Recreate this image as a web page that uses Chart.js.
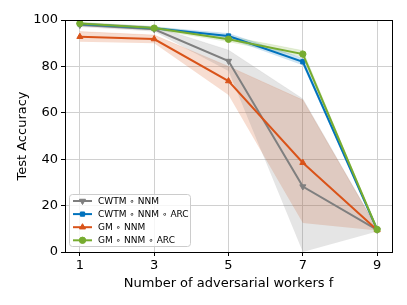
<!DOCTYPE html>
<html lang="en">
<head>
    <meta charset="UTF-8">
    <title>Test Accuracy</title>
    <script src="https://cdn.jsdelivr.net/npm/chart.js"></script>
    <style>
        html, body { margin: 0; padding: 0; background: #fff; }
        #wrap { width: 407px; height: 305px; }
    </style>
</head>
<body>
<div id="wrap"><canvas id="accChart" width="407" height="305"></canvas></div>

<script>
    // number of adversarial workers
    const workers = [1, 3, 5, 7, 9];
    const xTicks = [1, 3, 5, 7, 9];
    const yTicks = [0, 20, 40, 60, 80, 100];

    const names = ['CWTM \u2218 NNM', 'CWTM \u2218 NNM \u2218 ARC', 'GM \u2218 NNM', 'GM \u2218 NNM \u2218 ARC'];

    const cwtmNnm   = [97.8, 96.0, 82.3, 28.2, 9.5];
    const cwtmNnmLo = [97.0, 95.0, 78.0, 0.0, 8.8];
    const cwtmNnmHi = [98.8, 97.2, 87.0, 66.0, 10.2];

    const cwtmArc   = [98.3, 96.4, 93.1, 82.0, 9.7];
    const cwtmArcLo = [97.8, 95.8, 92.0, 80.5, 9.4];
    const cwtmArcHi = [98.8, 97.0, 94.2, 83.5, 10.0];

    const gmNnm   = [92.8, 91.8, 73.7, 38.5, 9.5];
    const gmNnmLo = [90.6, 90.0, 67.7, 12.5, 9.3];
    const gmNnmHi = [95.0, 93.5, 80.0, 65.5, 10.0];

    const gmArc   = [98.5, 96.5, 91.7, 85.3, 9.7];
    const gmArcLo = [98.0, 95.8, 90.5, 84.0, 9.4];
    const gmArcHi = [99.0, 97.2, 93.0, 86.8, 10.0];

    const colors = ['#7f7f7f', '#0072BD', '#D95319', '#77AC30'];
    const bandColors = ['rgba(127,127,127,0.2)', 'rgba(0,114,189,0.2)', 'rgba(217,83,25,0.2)', 'rgba(119,172,48,0.2)'];
    const markers = ['triangle', 'rect', 'triangle', 'circle'];
    const rotations = [180, 0, 0, 0];
    const sizes = [3.5, 3, 3.5, 3.2];

    const means = [cwtmNnm, cwtmArc, gmNnm, gmArc];
    const lows = [cwtmNnmLo, cwtmArcLo, gmNnmLo, gmArcLo];
    const highs = [cwtmNnmHi, cwtmArcHi, gmNnmHi, gmArcHi];

    const pts = arr => arr.map((v, i) => ({x: workers[i], y: v}));

    const datasets = [];
    // bands first
    for (let k = 0; k < 4; k++) {
        datasets.push({
            data: pts(lows[k]), borderWidth: 0, pointRadius: 0, fill: false,
            borderColor: 'transparent', order: 10
        });
        datasets.push({
            data: pts(highs[k]), borderWidth: 0.6, pointRadius: 0,
            borderColor: bandColors[k], backgroundColor: bandColors[k],
            fill: '-1', order: 10
        });
    }
    // lines (green on top)
    for (let k = 0; k < 4; k++) {
        datasets.push({
            label: names[k], main: true,
            data: pts(means[k]),
            borderColor: colors[k], backgroundColor: colors[k],
            borderWidth: 2, fill: false,
            pointStyle: markers[k], pointRotation: rotations[k],
            pointRadius: sizes[k], pointBorderWidth: 1,
            pointBackgroundColor: colors[k], pointBorderColor: colors[k],
            order: 4 - k
        });
    }

    const framePlugin = {
        id: 'frame',
        afterDraw(chart) {
            const {ctx, chartArea: a} = chart;
            ctx.save();
            ctx.strokeStyle = '#000';
            ctx.lineWidth = 1;
            ctx.strokeRect(Math.round(a.left) + 0.5, Math.round(a.top) + 0.5,
                Math.round(a.right - a.left), Math.round(a.bottom - a.top));

            // legend, bottom left inside the axes
            const bx = 69.5, by = 194.5, bw = 121, bh = 52;
            ctx.beginPath();
            ctx.roundRect(bx, by, bw, bh, 3);
            ctx.fillStyle = 'rgba(255,255,255,0.8)';
            ctx.fill();
            ctx.strokeStyle = '#cccccc';
            ctx.stroke();

            ctx.font = '9px "DejaVu Sans"';
            ctx.textBaseline = 'middle';
            ctx.textAlign = 'left';
            const lines = chart.data.datasets.filter(d => d.main);
            lines.forEach((d, i) => {
                const yy = 201 + i * 13.1;
                ctx.strokeStyle = d.borderColor;
                ctx.lineWidth = 2;
                ctx.beginPath();
                ctx.moveTo(73, yy);
                ctx.lineTo(92, yy);
                ctx.stroke();
                ctx.fillStyle = d.borderColor;
                ctx.lineWidth = 1;
                Chart.helpers.drawPoint(ctx, {
                    pointStyle: d.pointStyle, rotation: d.pointRotation,
                    radius: d.pointRadius, borderWidth: 1
                }, 82.5, yy);
                ctx.fillStyle = '#000';
                ctx.fillText(d.label, 98, yy + 0.5);
            });
            ctx.restore();
        }
    };

    Chart.defaults.font.family = '"DejaVu Sans"';
    Chart.defaults.color = '#000';

    const ctx = document.getElementById('accChart').getContext('2d');
    new Chart(ctx, {
        type: 'line',
        data: { datasets: datasets },
        options: {
            responsive: false,
            animation: false,
            layout: { padding: { top: 20, right: 15, left: 0, bottom: 0 } },
            plugins: {
                legend: { display: false },
                tooltip: { enabled: false }
            },
            scales: {
                x: {
                    type: 'linear', min: 0.6, max: 9.4,
                    afterBuildTicks: s => { s.ticks = xTicks.map(v => ({value: v})); },
                    afterFit: s => { s.height = 53; },
                    grid: { color: '#d0d0d0', lineWidth: 1, tickColor: '#000', tickLength: 4 },
                    border: { display: false },
                    ticks: { font: { size: 13 }, padding: 2, maxRotation: 0 },
                    title: { display: true, text: 'Number of adversarial workers f', font: { size: 13 }, padding: { top: 14, bottom: 14 } }
                },
                y: {
                    min: 0, max: 100,
                    afterBuildTicks: s => { s.ticks = yTicks.map(v => ({value: v})); },
                    afterFit: s => { s.width = 65; },
                    grid: { color: '#d0d0d0', lineWidth: 1, tickColor: '#000', tickLength: 4 },
                    border: { display: false },
                    ticks: { font: { size: 13 }, padding: 3 },
                    title: { display: true, text: 'Test Accuracy', font: { size: 13 }, padding: { top: 15, bottom: 15 } }
                }
            }
        },
        plugins: [framePlugin]
    });
</script>
</body>
</html>
